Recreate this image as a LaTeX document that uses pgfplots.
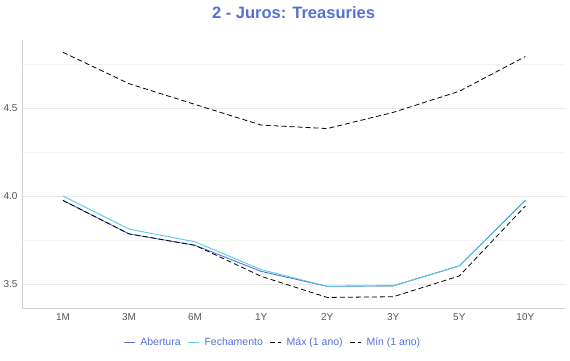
\documentclass[border=0pt]{standalone}
\usepackage{fontspec}
\setmainfont{Liberation Sans}
\usepackage{pgfplots}
\pgfplotsset{compat=1.18}
\definecolor{titleblue}{HTML}{5470D6}
\definecolor{abert}{HTML}{5470D6}
\definecolor{fech}{HTML}{5CC8E6}
\definecolor{tickgrey}{HTML}{555555}
\definecolor{axgrey}{HTML}{D0D0D0}
\definecolor{gridgrey}{HTML}{EAEAEA}
\definecolor{minorgrey}{HTML}{F4F4F4}
\begin{document}
\begin{tikzpicture}[x=1pt,y=1pt]
\path[use as bounding box] (0,0) rectangle (570,360);
\begin{axis}[
  at={(22pt,52pt)}, anchor=south west,
  scale only axis, width=543pt, height=268pt,
  xmin=-0.62, xmax=7.6, ymin=3.364, ymax=4.886,
  xtick={0,1,2,3,4,5,6,7},
  xticklabels={1M,3M,6M,1Y,2Y,3Y,5Y,10Y},
  ytick={3.5,4.0,4.5},
  yticklabels={3.5,4.0,4.5},
  minor ytick={3.75,4.25,4.75},
  ymajorgrids, yminorgrids,
  major grid style={gridgrey, line width=0.8pt},
  minor grid style={minorgrey, line width=0.8pt},
  axis x line*=bottom, axis y line*=left,
  axis line style={axgrey, line width=0.8pt, -},
  tick style={draw=none},
  major tick length=0pt,
  ticklabel style={font=\fontsize{10}{12}\selectfont, text=tickgrey},
  xticklabel style={yshift=-2pt},
  yticklabel style={xshift=-1pt},
  /pgf/number format/assume math mode=true,
  title={2 - Juros: Treasuries},
  title style={at={(0.5,1.08)}, anchor=center, font=\fontsize{16.5}{18}\selectfont\bfseries, text=titleblue},
  legend style={at={(0.462,-0.13)}, anchor=center, draw=none, fill=none,
    legend columns=4, font=\fontsize{10.5}{12}\selectfont, text=titleblue,
    /tikz/every odd column/.append style={column sep=3pt},
    /tikz/every even column/.append style={column sep=5pt}},
  legend image code/.code={\draw[#1] (0pt,0pt) -- (11pt,0pt);},
]
\addplot[abert, line width=0.9pt] coordinates {
(0,3.975) (1,3.785) (2,3.72) (3,3.572) (4,3.487) (5,3.49) (6,3.603) (7,3.975)};
\addlegendentry{Abertura}
\addplot[fech, line width=0.9pt] coordinates {
(0,4.0) (1,3.812) (2,3.74) (3,3.582) (4,3.487) (5,3.49) (6,3.603) (7,3.978)};
\addlegendentry{Fechamento}
\addplot[black, line width=0.8pt, dash pattern=on 5pt off 3pt] coordinates {
(0,4.816) (1,4.638) (2,4.52) (3,4.403) (4,4.383) (5,4.475) (6,4.595) (7,4.792)};
\addlegendentry{Máx (1 ano)}
\addplot[black, line width=0.8pt, dash pattern=on 5pt off 3pt] coordinates {
(0,3.975) (1,3.785) (2,3.72) (3,3.544) (4,3.424) (5,3.428) (6,3.546) (7,3.943)};
\addlegendentry{Mín (1 ano)}
\end{axis}
\end{tikzpicture}
\end{document}
